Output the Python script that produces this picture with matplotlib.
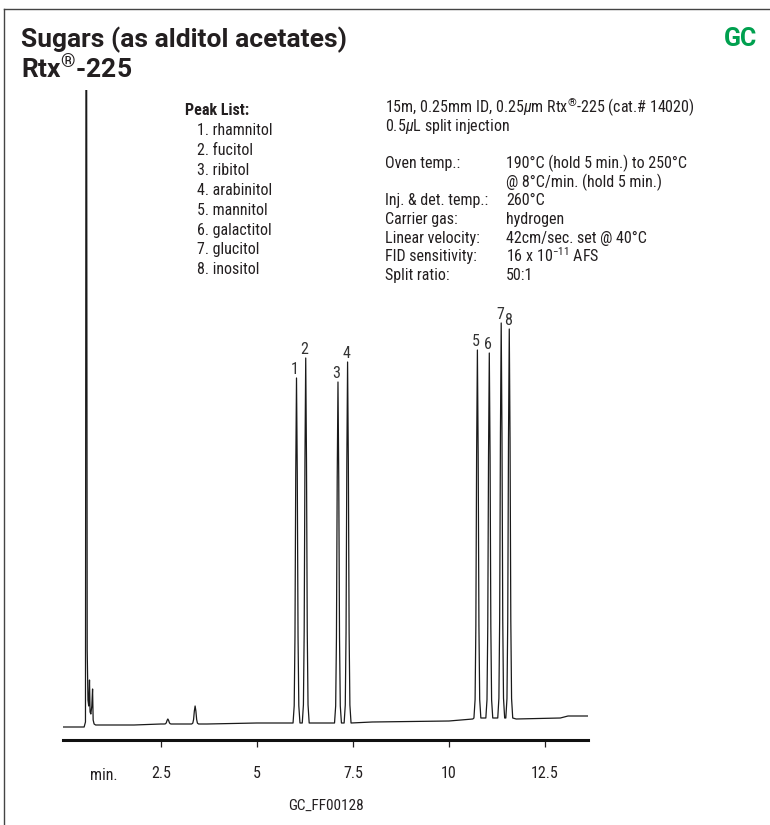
import matplotlib
matplotlib.use('Agg')
import matplotlib.pyplot as plt
from matplotlib import font_manager
from matplotlib.lines import Line2D
from matplotlib.transforms import blended_transform_factory

# ---- data (signal = pixels above the time axis) ----
peak_numbers = ['1', '2', '3', '4', '5', '6', '7', '8']
peak_names = ['rhamnitol', 'fucitol', 'ribitol', 'arabinitol',
              'mannitol', 'galactitol', 'glucitol', 'inositol']
peak_time = [6.03, 6.27, 7.11, 7.36, 10.74, 11.05, 11.36, 11.57]
peak_apex = [362, 382, 358, 378, 390, 387, 417, 411]
peak_base = [17, 17, 17, 17, 22, 22, 22, 22]

minor_time = [2.68, 3.39]
minor_apex = [21, 34]
minor_base = [16, 16]

solvent_time = [0.50, 0.535, 0.548, 0.565, 0.580, 0.600, 0.620, 0.640, 0.655,
                0.675, 0.700, 0.720, 0.735, 0.760, 0.800]
solvent_signal = [13, 18, 700, 700, 90, 40, 34, 60, 28, 26, 34, 51, 20, 16, 15]

baseline_time = [-0.05, 0.50, 0.85, 1.80, 2.50, 3.20, 3.70, 5.00, 5.90,
                 6.70, 8.00, 10.00, 10.62, 11.75, 12.90, 13.10, 13.62]
baseline_signal = [13, 13, 15, 15, 16, 16, 16, 17, 17,
                   17, 18, 19, 21, 21, 22, 24, 24]

# shape of one peak: offset from retention time (min) and fraction of height
profile_offset = [-0.09, -0.06, -0.04, -0.02, 0.0, 0.02, 0.04, 0.06, 0.09]
profile_frac = [0.0, 0.05, 0.25, 0.72, 1.0, 0.72, 0.25, 0.05, 0.0]

tick_values = [2.5, 5, 7.5, 10, 12.5]
tick_labels = ['2.5', '5', '7.5', '10', '12.5']

column_text = r'15m, 0.25mm ID, 0.25$\mu$m Rtx$^{\mathregular{®}}$-225 (cat.# 14020)'
injection_text = r'0.5$\mu$L split injection'
condition_labels = ['Oven temp.:', '', 'Inj. & det. temp.:', 'Carrier gas:',
                    'Linear velocity:', 'FID sensitivity:', 'Split ratio:']
condition_values = ['190°C (hold 5 min.) to 250°C', '@ 8°C/min. (hold 5 min.)',
                    '260°C', 'hydrogen', '42cm/sec. set @ 40°C',
                    r'16 x 10$^{\mathregular{-11}}$ AFS', '50:1']

# ---- fonts: a narrow sans for the body, Roboto bold for the headings ----
fonts = font_manager.fontManager.ttflist
names = {f.name for f in fonts}
stretch = 'normal'
if 'Liberation Sans Narrow' in names:
    body = 'Liberation Sans Narrow'
elif 'Roboto Condensed' in names:
    body = 'Roboto Condensed'
elif any(f.name == 'DejaVu Sans' and f.stretch == 'condensed' for f in fonts):
    body = 'DejaVu Sans'
    stretch = 'condensed'
else:
    body = 'Roboto'
head = 'Roboto' if 'Roboto' in names else 'DejaVu Sans'
plt.rcParams['font.family'] = [body, 'DejaVu Sans']
plt.rcParams['font.stretch'] = stretch
plt.rcParams['mathtext.fontset'] = 'custom'
plt.rcParams['mathtext.rm'] = body
plt.rcParams['mathtext.it'] = body + ':italic'
plt.rcParams['mathtext.bf'] = body + ':bold'

INK = '#231f20'
W, H = 770, 825
FS = 11.5


def fx(x):
    return x / W


def fy(y):
    return 1 - y / H


fig = plt.figure(figsize=(7.7, 8.25), dpi=100)

# frame (top and left edges)
fig.add_artist(Line2D([fx(4), 1], [fy(9), fy(9)], color='#444444', lw=1))
fig.add_artist(Line2D([fx(4), fx(4)], [fy(9), 0], color='#444444', lw=1))

# titles
fig.text(fx(21), fy(47), 'Sugars (as alditol acetates)', fontsize=19,
         fontweight='bold', family=[head, 'DejaVu Sans'], stretch='normal',
         color=INK, va='baseline')
fig.text(fx(21), fy(78), r'Rtx$^{\mathregular{®}}$-225', fontsize=19,
         fontweight='bold', family=[head, 'DejaVu Sans'], stretch='normal',
         color=INK, va='baseline')
fig.text(fx(757), fy(46), 'GC', fontsize=18, fontweight='bold',
         family=[head, 'DejaVu Sans'], stretch='normal',
         color='#00a04f', ha='right', va='baseline')

# peak list
fig.text(fx(185), fy(115), 'Peak List:', fontsize=FS, fontweight='bold',
         color=INK, va='baseline')
for i, (num, name) in enumerate(zip(peak_numbers, peak_names)):
    fig.text(fx(197), fy(135 + i * 19.9), f'{num}. {name}', fontsize=FS,
             color=INK, va='baseline')

# instrument conditions
fig.text(fx(385), fy(113), column_text, fontsize=FS, color=INK, va='baseline')
fig.text(fx(385), fy(131), injection_text, fontsize=FS, color=INK, va='baseline')
for i, (lab, val) in enumerate(zip(condition_labels, condition_values)):
    y = 168 + i * 18.7
    fig.text(fx(385), fy(y), lab, fontsize=FS, color=INK, va='baseline')
    fig.text(fx(506), fy(y), val, fontsize=FS, color=INK, va='baseline')

# chromatogram
ax = fig.add_axes([fx(63), fy(740), fx(588) - fx(63), fy(90) - fy(740)])
ax.set_facecolor('none')

points = list(zip(baseline_time, baseline_signal)) + list(zip(solvent_time, solvent_signal))
for t, a, b in zip(peak_time + minor_time, peak_apex + minor_apex, peak_base + minor_base):
    for off, fr in zip(profile_offset, profile_frac):
        points.append((t + off, b + fr * (a - b)))
points.sort()
ax.plot([p[0] for p in points], [p[1] for p in points], color='#1a1a1a', lw=0.9)

for num, t, a in zip(peak_numbers, peak_time, peak_apex):
    ax.annotate(num, (t, a), xytext=(-1, 3), textcoords='offset points',
                ha='center', va='baseline', fontsize=FS, color='#333333')

ax.set_xlim(-0.05, 13.62)
ax.set_ylim(0, 650)
ax.set_yticks([])
ax.set_xticks(tick_values, tick_labels)
ax.tick_params(axis='x', length=5, width=0.9, pad=14, labelsize=FS,
               colors=INK, direction='out')
for side in ['top', 'left', 'right']:
    ax.spines[side].set_visible(False)
ax.spines['bottom'].set_linewidth(2.2)
ax.spines['bottom'].set_color('#111111')

trans = blended_transform_factory(ax.transData, fig.transFigure)
ax.text(1.0, fy(776), 'min.', transform=trans, ha='center', va='center',
        fontsize=FS, color=INK)

fig.text(fx(326), fy(806), 'GC_FF00128', fontsize=11, color=INK,
         ha='center', va='center')

fig.savefig('out.png', dpi=100)
